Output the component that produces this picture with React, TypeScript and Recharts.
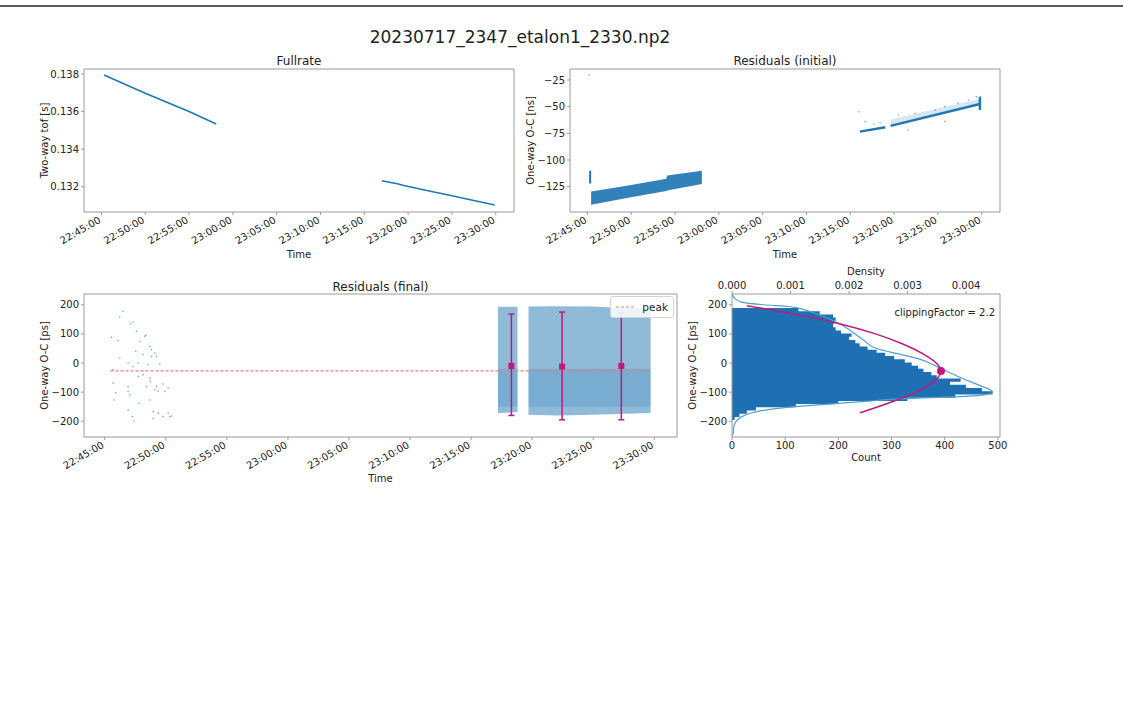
import React from 'react';
import {
  ComposedChart, Line, Area, Scatter, XAxis, YAxis, ReferenceArea, ReferenceDot, ErrorBar, Legend,
} from 'recharts';

const FONT = '"DejaVu Sans", sans-serif';
const C0 = '#1f77b4';
const MAGENTA = '#c0187c';
const FRAME = '#9a9a9a';
const TXT = '#222';

// ---- shared time axis (minutes after 22:45:00) ----
const timeTicks = [0, 5, 10, 15, 20, 25, 30, 35, 40, 45];
const timeTickLabels = ['22:45:00', '22:50:00', '22:55:00', '23:00:00', '23:05:00', '23:10:00', '23:15:00', '23:20:00', '23:25:00', '23:30:00'];
const topDomain = [-1.99, 47.09];
const finalDomain = [-1.7, 46.86];

// ---- Fullrate ----
const fullTicks = [0.132, 0.134, 0.136, 0.138];
const fullDomain = [0.130653, 0.138266];
const fr1Time = [0.3, 5, 10, 13.1];
const fr1Tof = [0.13795, 0.13697, 0.136, 0.13534];
const fr2Time = [32.0, 33.9, 34.4, 37, 40, 42.5, 44.9];
const fr2Tof = [0.13232, 0.13214, 0.13208, 0.13181, 0.13152, 0.13127, 0.13103];

// ---- Residuals (initial) ----
const riTicks = [-125, -100, -75, -50, -25];
const riDomain = [-148.7, -14.7];
const riBandTime = [0.42, 4.5, 9.0, 9.1, 13.06];
const riBandLow = [-142, -135.5, -129, -128.5, -122.5];
const riBandHigh = [-129.5, -124, -117.5, -114.5, -110];
const riClusterTime = [0.31, 0.31];
const riClusterVal = [-122, -110];
const riSeg2aTime = [31.1, 34.0];
const riSeg2aVal = [-73.4, -69.3];
const riSeg2bTime = [34.6, 44.8];
const riSeg2bVal = [-68, -47.5];
const riSeg2bHigh = [-62, -42.5];
const riEndTime = [44.8, 44.8];
const riEndVal = [-53.1, -40.6];
const riOutTime = [0.2, 31.0, 31.7, 32.7, 33.4, 35.5, 37.4, 38.5, 39.7, 40.8, 42.3, 43.5, 44.4, 36.6, 40.8];
const riOutVal = [-20.3, -54.7, -64, -66.2, -65, -57.8, -56.2, -59.4, -53.1, -50, -46.9, -43.7, -40.6, -71.8, -64];

// ---- Residuals (final) ----
const psTicks = [-200, -100, 0, 100, 200];
const psDomain = [-254, 237];
const sparseTime = [0.55, 1.09, 1.23, 1.5, 1.23, 0.68, 0.68, 0.9, 0.76, 2.1, 2.32, 2.6, 1.91, 2.32, 2.54, 2.73, 2.87, 3.28, 3.14, 3.55, 3.14, 2.76, 1.91, 1.91, 2.05, 2.79, 1.91, 2.27, 2.38, 3.69, 3.83, 4.1, 4.24, 3.83, 3.69, 3.74, 3.69, 3.42, 4.1, 4.24, 4.37, 4.78, 4.92, 5.19, 3.96, 4.37, 3.96, 4.78, 5.19, 5.46, 5.33, 3.36, 4.51];
const sparseVal = [88, 77, 157, 178, 17, -23, -69, -101, -127, 134, 141, 109, 0, -12, 40, 0, 74, 92, 29, -6, -40, -46, -81, -98, -109, -138, -161, -184, -199, 57, 46, 34, 23, 23, -52, -63, -127, -81, -92, -81, -96, -72, -98, -86, -167, -172, -190, -184, -172, -182, -184, 95, -3];
const denseATime = [32.2, 33.8];
const denseALow = [-172, -168];
const denseAHigh = [193, 193];
const denseBTime = [34.7, 37, 40, 42, 44.7];
const denseBLow = [-178, -180, -178, -175, -172];
const denseBHigh = [194, 195, 194, 190, 188];
const coreATime = [32.2, 33.8];
const coreBTime = [34.7, 44.7];
const coreLow = [-150, -150];
const coreHigh = [-20, -20];
const peakValue = -27;
const peakTime = [0.47, 44.7];
const ebTime = [33.3, 37.45, 42.3];
const ebCenter = [-10, -12, -10];
const ebLow = [-180, -195, -195];
const ebHigh = [168, 175, 172];

// ---- histogram panel ----
const countTicks = [0, 100, 200, 300, 400, 500];
const countDomain = [0, 504];
const densityTicks = [0, 0.001, 0.002, 0.003, 0.004];
const densityDomain = [0, 0.004578];
const histEdges = [-196, -185, -174, -163, -152, -141, -130, -119, -108, -97, -86, -75, -64, -53, -42, -31, -20, -9, 2, 13, 24, 35, 46, 57, 68, 79, 90, 101, 112, 123, 134, 145, 156, 167, 178];
const histTopEdge = 189;
const histCounts = [5, 14, 28, 45, 120, 200, 330, 420, 490, 470, 440, 410, 430, 385, 375, 360, 350, 338, 325, 305, 288, 272, 255, 240, 232, 220, 225, 205, 195, 190, 192, 195, 190, 165, 125];
const kdeVal = [-250, -242, -220, -200, -185, -170, -158, -148, -140, -132, -125, -120, -116, -110, -100, -94, -76, -48, -14, 15, 32, 49, 78, 112, 140, 169, 186, 194, 200, 209, 222, 237];
const kdeDensity = [0, 0.00002, 0.00003, 0.00007, 0.00016, 0.00036, 0.00068, 0.00118, 0.00173, 0.00227, 0.00272, 0.00327, 0.00381, 0.00427, 0.00445, 0.00443, 0.00422, 0.00388, 0.00352, 0.00318, 0.00283, 0.00248, 0.00225, 0.00202, 0.00179, 0.00144, 0.00118, 0.00097, 0.00054, 0.00016, 0.00005, 0];
const fitVal = [-171, -134, -105, -76, -48, -27, -2, 26, 66, 100, 135, 167, 197];
const fitCount = [241, 300, 340, 370, 388, 393, 385, 364, 320, 270, 202, 120, 28];
const peakCount = 393;

// ---- helpers ----
const pts = (ts: number[], vs: number[]) => ts.map((t, i) => ({ t, v: vs[i] }));
const band = (ts: number[], lo: number[], hi: number[]) => ts.map((t, i) => ({ t, r: [lo[i], hi[i]] }));
const minus = (v: number) => String(v).replace('-', '\u2212');

const TimeTick = (props: any) => {
  const { x, y, payload } = props;
  const idx = timeTicks.indexOf(payload.value);
  return (
    <g transform={`translate(${x},${y + 5}) rotate(-30)`}>
      <text x={0} y={0} textAnchor="end" fontSize={10} fill={TXT} fontFamily={FONT}>{timeTickLabels[idx]}</text>
    </g>
  );
};

const tinyDot = (p: any) => <circle cx={p.cx} cy={p.cy} r={0.8} fill={C0} fillOpacity={0.65} />;
const squareDot = (p: any) => <rect x={p.cx - 3} y={p.cy - 3} width={6} height={6} fill={MAGENTA} />;

const axisCommon = {
  tickLine: { stroke: FRAME },
  tickSize: 3,
  tickMargin: 2,
  axisLine: false,
  allowDataOverflow: true,
  interval: 0 as const,
};
const tickStyle = { fontSize: 10, fill: TXT };

const timeXAxis = (domain: number[], height: number, offset: number) => (
  <XAxis
    type="number" dataKey="t" domain={domain} ticks={timeTicks} tick={<TimeTick />} height={height}
    {...axisCommon}
    label={{ value: 'Time', position: 'insideBottom', offset, fontSize: 10, fill: TXT }}
  />
);

const FullrateChart = () => (
  <ComposedChart width={526} height={215} margin={{ top: 19, right: 16, bottom: 0, left: 0 }}>
    {timeXAxis(topDomain, 53, 7)}
    <YAxis
      type="number" dataKey="v" domain={fullDomain} ticks={fullTicks} width={80} tick={tickStyle}
      tickFormatter={(v: number) => v.toFixed(3)} {...axisCommon}
      label={{ value: 'Two-way tof [s]', angle: -90, position: 'center', fontSize: 10, fill: TXT }}
    />
    <ReferenceArea x1={topDomain[0]} x2={topDomain[1]} y1={fullDomain[0]} y2={fullDomain[1]} fill="none" stroke={FRAME} ifOverflow="visible" />
    <Line data={pts(fr1Time, fr1Tof)} dataKey="v" stroke={C0} strokeWidth={1.6} dot={false} isAnimationActive={false} />
    <Line data={pts(fr2Time, fr2Tof)} dataKey="v" stroke={C0} strokeWidth={1.6} dot={false} isAnimationActive={false} />
  </ComposedChart>
);

const InitialChart = () => (
  <ComposedChart width={526} height={215} margin={{ top: 19, right: 16, bottom: 0, left: 0 }}>
    {timeXAxis(topDomain, 53, 7)}
    <YAxis
      type="number" dataKey="v" domain={riDomain} ticks={riTicks} width={80} tick={tickStyle}
      tickFormatter={minus} {...axisCommon}
      label={{ value: 'One-way O-C [ns]', angle: -90, position: 'center', fontSize: 10, fill: TXT }}
    />
    <ReferenceArea x1={topDomain[0]} x2={topDomain[1]} y1={riDomain[0]} y2={riDomain[1]} fill="none" stroke={FRAME} ifOverflow="visible" />
    <Area data={band(riBandTime, riBandLow, riBandHigh)} dataKey="r" type="linear" fill={C0} fillOpacity={0.92} stroke="none" isAnimationActive={false} />
    <Area data={band(riSeg2bTime, riSeg2bVal, riSeg2bHigh)} dataKey="r" type="linear" fill={C0} fillOpacity={0.18} stroke="none" isAnimationActive={false} />
    <Line data={pts(riClusterTime, riClusterVal)} dataKey="v" stroke={C0} strokeWidth={2} dot={false} isAnimationActive={false} />
    <Line data={pts(riSeg2aTime, riSeg2aVal)} dataKey="v" stroke={C0} strokeWidth={2.5} dot={false} isAnimationActive={false} />
    <Line data={pts(riSeg2bTime, riSeg2bVal)} dataKey="v" stroke={C0} strokeWidth={2.5} dot={false} isAnimationActive={false} />
    <Line data={pts(riEndTime, riEndVal)} dataKey="v" stroke={C0} strokeWidth={2.5} dot={false} isAnimationActive={false} />
    <Scatter data={pts(riOutTime, riOutVal)} fill={C0} shape={tinyDot} isAnimationActive={false} />
  </ComposedChart>
);

const LegendBox = (props: any) => {
  const items = (props.payload || []).filter((p: any) => p.type !== 'none' && p.value === 'peak');
  return (
    <div style={{ width: 64, height: 22, boxSizing: 'border-box', border: '1px solid #d4d4d4', borderRadius: 3, background: 'rgba(255,255,255,0.85)', display: 'flex', alignItems: 'center', padding: '0 5px', fontFamily: FONT, fontSize: 10.5, color: TXT }}>
      <svg width={22} height={6}><line x1={0} y1={3} x2={22} y2={3} stroke="#f07a7a" strokeWidth={1.2} strokeDasharray="3 2" /></svg>
      <span style={{ marginLeft: 6 }}>{items.length ? items[0].value : 'peak'}</span>
    </div>
  );
};

const FinalChart = () => (
  <ComposedChart width={686} height={215} margin={{ top: 19, right: 13, bottom: 0, left: 0 }}>
    {timeXAxis(finalDomain, 53, 8)}
    <YAxis
      type="number" dataKey="v" domain={psDomain} ticks={psTicks} width={80} tick={tickStyle}
      tickFormatter={minus} {...axisCommon}
      label={{ value: 'One-way O-C [ps]', angle: -90, position: 'center', fontSize: 10, fill: TXT }}
    />
    <ReferenceArea x1={finalDomain[0]} x2={finalDomain[1]} y1={psDomain[0]} y2={psDomain[1]} fill="none" stroke={FRAME} ifOverflow="visible" />
    <Area data={band(denseATime, denseALow, denseAHigh)} dataKey="r" type="linear" fill={C0} fillOpacity={0.5} stroke="none" legendType="none" isAnimationActive={false} />
    <Area data={band(denseBTime, denseBLow, denseBHigh)} dataKey="r" type="linear" fill={C0} fillOpacity={0.5} stroke="none" legendType="none" isAnimationActive={false} />
    <Area data={band(coreATime, coreLow, coreHigh)} dataKey="r" type="linear" fill={C0} fillOpacity={0.2} stroke="none" legendType="none" isAnimationActive={false} />
    <Area data={band(coreBTime, coreLow, coreHigh)} dataKey="r" type="linear" fill={C0} fillOpacity={0.2} stroke="none" legendType="none" isAnimationActive={false} />
    <Scatter data={pts(sparseTime, sparseVal)} fill={C0} shape={tinyDot} legendType="none" isAnimationActive={false} />
    <Line name="peak" data={pts(peakTime, [peakValue, peakValue])} dataKey="v" stroke="#f07a7a" strokeWidth={1.1} strokeDasharray="3 2" dot={false} isAnimationActive={false} />
    <Scatter
      data={ebTime.map((t, i) => ({ t, v: ebCenter[i], e: [ebCenter[i] - ebLow[i], ebHigh[i] - ebCenter[i]] }))}
      fill={MAGENTA} shape={squareDot} legendType="none" isAnimationActive={false}
    >
      <ErrorBar dataKey="e" direction="y" width={3} stroke={MAGENTA} strokeWidth={1.5} />
    </Scatter>
    <Legend verticalAlign="middle" align="center" content={<LegendBox />} wrapperStyle={{ left: 606, top: 21, width: 'auto' }} />
  </ComposedChart>
);

const HistChart = () => {
  const histData = histEdges.map((e, i) => ({ v: e, c: histCounts[i] })).concat([{ v: histTopEdge, c: histCounts[histCounts.length - 1] }]);
  const kdeData = kdeVal.map((v, i) => ({ v, d: kdeDensity[i] }));
  const fitData = fitVal.map((v, i) => ({ v, c: fitCount[i] }));
  return (
    <ComposedChart layout="vertical" width={363} height={210} margin={{ top: 0, right: 15, bottom: 0, left: 0 }}>
      <XAxis
        xAxisId="c" type="number" orientation="bottom" domain={countDomain} ticks={countTicks} height={35} tick={tickStyle}
        {...axisCommon}
        label={{ value: 'Count', position: 'insideBottom', offset: 11, fontSize: 10, fill: TXT }}
      />
      <XAxis
        xAxisId="d" type="number" orientation="top" domain={densityDomain} ticks={densityTicks} height={32} tick={tickStyle}
        tickFormatter={(v: number) => v.toFixed(3)} {...axisCommon}
        label={{ value: 'Density', position: 'insideTop', offset: 6, fontSize: 10, fill: TXT }}
      />
      <YAxis
        type="number" dataKey="v" domain={psDomain} ticks={psTicks} width={80} tick={tickStyle} reversed
        tickFormatter={minus} {...axisCommon}
        label={{ value: 'One-way O-C [ps]', angle: -90, position: 'center', fontSize: 10, fill: TXT }}
      />
      <Area xAxisId="c" data={histData} dataKey="c" type="stepBefore" fill="#1f70b2" fillOpacity={1} stroke="none" isAnimationActive={false} />
      <Line xAxisId="d" data={kdeData} dataKey="d" type="monotone" stroke="#4f9fd0" strokeWidth={1.2} dot={false} isAnimationActive={false} />
      <Line xAxisId="c" data={fitData} dataKey="c" type="monotone" stroke={MAGENTA} strokeWidth={1.5} dot={false} isAnimationActive={false} />
      <ReferenceDot xAxisId="c" x={peakCount} y={peakValue} r={4} fill={MAGENTA} stroke="none" ifOverflow="visible" />
      <ReferenceArea xAxisId="c" x1={countDomain[0]} x2={countDomain[1]} y1={psDomain[0]} y2={psDomain[1]} fill="none" stroke={FRAME} ifOverflow="visible" />
    </ComposedChart>
  );
};

const abs = (left: number, top: number): React.CSSProperties => ({ position: 'absolute', left, top });

export default function App() {
  return (
    <div style={{ position: 'absolute', left: 0, top: 0, width: 1123, height: 707, background: '#fff', fontFamily: FONT, color: TXT, overflow: 'hidden' }}>
      <div style={{ position: 'absolute', left: 0, top: 5, width: 1123, height: 1.5, background: '#5a5a5a' }} />
      <div style={{ position: 'absolute', left: 0, top: 27, width: 1040, textAlign: 'center', fontSize: 17, lineHeight: '20px' }}>20230717_2347_etalon1_2330.np2</div>
      <div style={{ position: 'absolute', left: 199, top: 54, width: 200, textAlign: 'center', fontSize: 12, lineHeight: '14px' }}>Fullrate</div>
      <div style={{ position: 'absolute', left: 685, top: 54, width: 200, textAlign: 'center', fontSize: 12, lineHeight: '14px' }}>Residuals (initial)</div>
      <div style={{ position: 'absolute', left: 280, top: 280, width: 201, textAlign: 'center', fontSize: 12, lineHeight: '14px' }}>Residuals (final)</div>
      <div style={abs(4, 50)}><FullrateChart /></div>
      <div style={abs(490, 50)}><InitialChart /></div>
      <div style={abs(4, 275)}><FinalChart /></div>
      <div style={abs(652, 262)}><HistChart /></div>
      <div style={{ position: 'absolute', left: 875, top: 307, width: 120, textAlign: 'right', fontSize: 10, lineHeight: '12px' }}>clippingFactor = 2.2</div>
    </div>
  );
}
